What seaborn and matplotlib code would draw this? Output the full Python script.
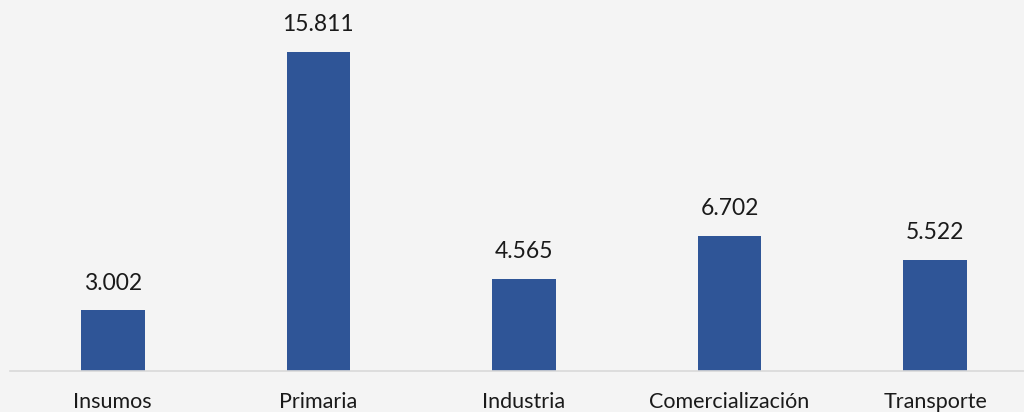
import matplotlib
matplotlib.use("Agg")
from matplotlib import pyplot as plt
import seaborn as sns
import pandas as pd

categorias = ["Insumos", "Primaria", "Industria", "Comercialización", "Transporte"]
valores = [3.002, 15.811, 4.565, 6.702, 5.522]
etiquetas = ["3.002", "15.811", "4.565", "6.702", "5.522"]

sns.set_style("white")
plt.rcParams["font.family"] = ["Lato", "DejaVu Sans"]

df = pd.DataFrame({"Categoria": categorias, "Valor": valores})

fondo = "#F4F4F4"
fig = plt.figure(figsize=(10.24, 4.12), dpi=100, facecolor=fondo)
ax = fig.add_axes([10 / 1024, 41 / 412, 1014 / 1024, 371 / 412])
ax.set_facecolor(fondo)

sns.barplot(data=df, x="Categoria", y="Valor", color="#2F5597", width=0.31,
            saturation=1, linewidth=0, ax=ax)

# Etiquetas de datos encima de cada barra
for i, (v, t) in enumerate(zip(valores, etiquetas)):
    ax.annotate(t, (i, v), xytext=(0, 12), textcoords="offset points",
                ha="center", va="bottom", fontsize=16.5, color="#1a1a1a")

ax.set_xlim(-0.5, 4.432)
ax.set_ylim(0, 18.39)
ax.set_xlabel("")
ax.set_ylabel("")
ax.set_yticks([])
for s in ["top", "right", "left"]:
    ax.spines[s].set_visible(False)
ax.spines["bottom"].set_color("#D9D9D9")
ax.spines["bottom"].set_linewidth(1.2)
ax.tick_params(axis="x", length=0, pad=15, labelsize=15.5, labelcolor="#1a1a1a")

fig.savefig("out.png", dpi=100, facecolor=fondo)
plt.close(fig)
